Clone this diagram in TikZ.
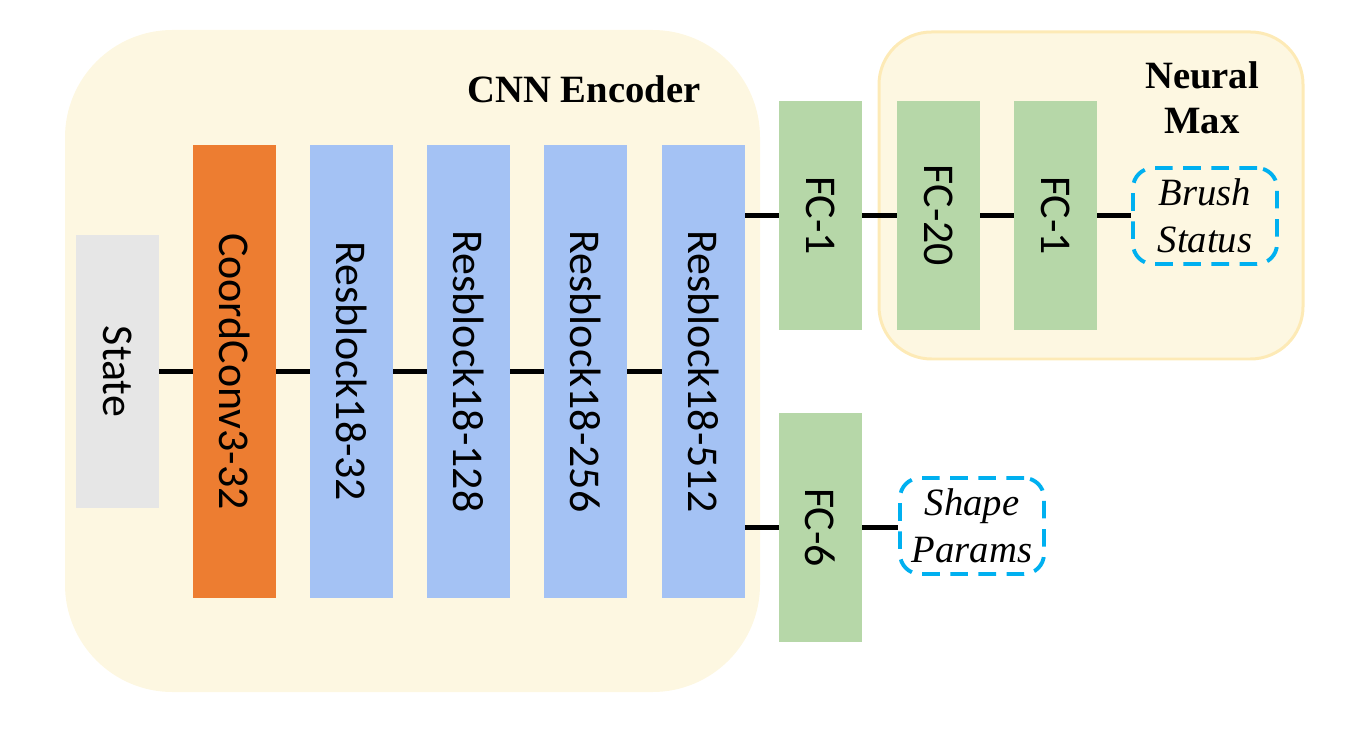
\documentclass[tikz,border=0pt]{standalone}
\usepackage{fontspec}
\usepackage{graphicx}
\setmainfont{Liberation Serif}
\newfontfamily\boxfont{Carlito}
\definecolor{panelfill}{HTML}{FDF7E1}
\definecolor{paneledge}{HTML}{FDEAB6}
\definecolor{stategray}{HTML}{E6E6E6}
\definecolor{convorange}{HTML}{ED7D31}
\definecolor{resblue}{HTML}{A4C2F4}
\definecolor{fcgreen}{HTML}{B6D7A8}
\definecolor{outcyan}{HTML}{00B0F0}
\begin{document}
\begin{tikzpicture}[line cap=round,line join=round,x=0.02cm,y=-0.02cm,
	layer/.style={inner sep=0pt,minimum width=1.66cm,font=\boxfont\fontsize{25}{30}\selectfont},
	tallbox/.style={layer,minimum height=9.06cm},
	fcbox/.style={layer,fill=fcgreen,minimum height=4.58cm},
	outbox/.style={draw=outcyan,line width=2.2pt,line cap=butt,dash pattern=on 10pt off 6pt,rounded corners=0.4cm,
		minimum width=2.88cm,minimum height=1.92cm,inner sep=0pt,align=center,
		font=\itshape\fontsize{22}{26.5}\selectfont},
	link/.style={line width=2.3pt,line cap=butt},
	paneltitle/.style={font=\bfseries\fontsize{22}{25.5}\selectfont,align=center}]
	\useasboundingbox (0,0) rectangle (1364,739);
	\fill [panelfill,rounded corners=2.15cm] (65,30) rectangle (760,692);
	\filldraw [fill=panelfill,draw=paneledge,line width=0.06cm,rounded corners=1.05cm] (879,32) rectangle (1303,359);
	\node [paneltitle] (enc) at (584,89) {CNN Encoder};
	\node [paneltitle] (nmax) at (1202,98) {Neural\\Max};
	\node [layer,fill=stategray,minimum height=5.46cm] (state) at (117.5,371.5) {\rotatebox{-90}{State}};
	\node [tallbox,fill=convorange] (cc) at (234.5,371.5) {\rotatebox{-90}{CoordConv3-32}};
	\node [tallbox,fill=resblue] (r32) at (351.5,371.5) {\rotatebox{-90}{Resblock18-32}};
	\node [tallbox,fill=resblue] (r128) at (468.5,371.5) {\rotatebox{-90}{Resblock18-128}};
	\node [tallbox,fill=resblue] (r256) at (585.5,371.5) {\rotatebox{-90}{Resblock18-256}};
	\node [tallbox,fill=resblue] (r512) at (703.5,371.5) {\rotatebox{-90}{Resblock18-512}};
	\node [fcbox] (fca) at (820.5,215.5) {\rotatebox{-90}{FC-1}};
	\node [fcbox] (fcb) at (938.5,215.5) {\rotatebox{-90}{FC-20}};
	\node [fcbox] (fcc) at (1055.5,215.5) {\rotatebox{-90}{FC-1}};
	\node [fcbox] (fcs) at (820.5,527.5) {\rotatebox{-90}{FC-6}};
	\node [outbox] (brush) at (1205,216) {Brush\\Status};
	\node [outbox] (shape) at (972,526) {Shape\\Params};
	\draw [link] (state) -- (cc);
	\draw [link] (cc) -- (r32);
	\draw [link] (r32) -- (r128);
	\draw [link] (r128) -- (r256);
	\draw [link] (r256) -- (r512);
	\draw [link] (r512.east |- fca.west) -- (fca.west);
	\draw [link] (fca) -- (fcb);
	\draw [link] (fcb) -- (fcc);
	\draw [link] (fcc.east) -- (brush.west |- fcc.east);
	\draw [link] (r512.east |- fcs.west) -- (fcs.west);
	\draw [link] (fcs.east) -- (shape.west |- fcs.east);
\end{tikzpicture}
\end{document}
